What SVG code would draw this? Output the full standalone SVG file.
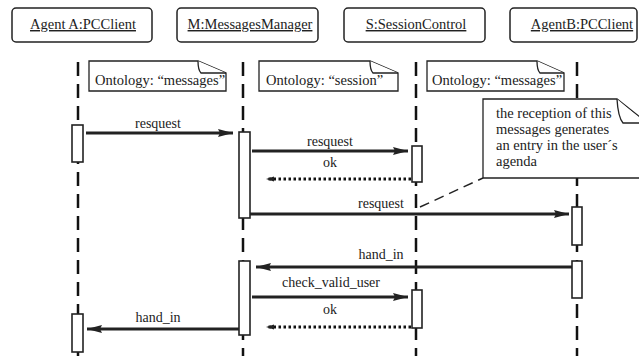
<svg xmlns="http://www.w3.org/2000/svg" width="639" height="356" viewBox="0 0 639 356">
<style>
.box{fill:#fff;stroke:#222;stroke-width:1.5}
.obj{font-family:'Liberation Serif','Times New Roman','DejaVu Serif',serif;font-size:14.5px;fill:#222;text-anchor:middle;text-decoration:underline}
.life{stroke:#111;stroke-width:2.5;stroke-dasharray:14 8;fill:none}
.act{fill:#fff;stroke:#222;stroke-width:1.6}
.note{fill:#fff;stroke:#222;stroke-width:1.3}
.nt{font-family:'Liberation Serif','Times New Roman','DejaVu Serif',serif;font-size:14.5px;fill:#222}
.lbl{font-family:'Liberation Serif','Times New Roman','DejaVu Serif',serif;font-size:14px;fill:#222;text-anchor:middle}
.msg{stroke:#222;stroke-width:3;fill:none}
.ret{stroke:#111;stroke-width:3;stroke-dasharray:2.5 2.5;fill:none}
.ah{fill:#222}
</style>
<defs>
<marker id="arr" markerUnits="userSpaceOnUse" markerWidth="16" markerHeight="10" refX="15" refY="5" orient="auto">
<path d="M0,1 L15,5 L0,9 L2,5 Z" class="ah"/>
</marker>
<marker id="arrs" markerUnits="userSpaceOnUse" markerWidth="10" markerHeight="8" refX="8" refY="4" orient="auto">
<path d="M0,1.5 L8,4 L0,6.5 Z" class="ah"/>
</marker>
</defs>

<g id="lifelines">
<line class="life" x1="78" y1="62" x2="78" y2="356"/>
<line class="life" x1="243" y1="62" x2="243" y2="356"/>
<line class="life" x1="416" y1="62" x2="416" y2="356"/>
<line class="life" x1="577" y1="62" x2="577" y2="356"/>
</g>

<g id="agentA">
<rect class="box" x="12" y="8" width="140" height="34" rx="4"/>
<text class="obj" x="83" y="29">Agent A:PCClient</text>
</g>
<g id="messagesManager">
<rect class="box" x="177" y="8" width="141" height="34" rx="4"/>
<text class="obj" x="250" y="29">M:MessagesManager</text>
</g>
<g id="sessionControl">
<rect class="box" x="344" y="8" width="141" height="34" rx="4"/>
<text class="obj" x="416" y="29">S:SessionControl</text>
</g>
<g id="agentB">
<rect class="box" x="510" y="8" width="127" height="34" rx="4"/>
<text class="obj" x="582" y="29">AgentB:PCClient</text>
</g>

<g id="note1">
<path class="note" d="M89,61 H198 L226,73 V91 H89 Z"/>
<path class="note" d="M198,61 Q198,70 201,73 H226"/>
<text class="nt" x="95" y="85">Ontology: “messages”</text>
</g>
<g id="note2">
<path class="note" d="M259,61 H370 L398,73 V91 H259 Z"/>
<path class="note" d="M370,61 Q370,70 373,73 H398"/>
<text class="nt" x="266" y="85">Ontology: “session”</text>
</g>
<g id="note3">
<path class="note" d="M427,61 H537 L564,73 V91 H427 Z"/>
<path class="note" d="M537,61 Q537,70 540,73 H564"/>
<text class="nt" x="432" y="85">Ontology: “messages”</text>
</g>
<g id="note4">
<path class="note" d="M483,99 H617 L645,121 V178 H483 Z"/>
<path class="note" d="M617,99 Q618,117 623,123 H645"/>
<text class="nt" font-size="15" x="496" y="118">the reception of this</text>
<text class="nt" font-size="15" x="496" y="134">messages generates</text>
<text class="nt" font-size="15" x="496" y="150">an entry in the user´s</text>
<text class="nt" font-size="15" x="496" y="166">agenda</text>
</g>

<g id="activations">
<rect class="act" x="72" y="125" width="11" height="37"/>
<rect class="act" x="239" y="132" width="11" height="86"/>
<rect class="act" x="412" y="146" width="10" height="36"/>
<rect class="act" x="572" y="207" width="10" height="38"/>
<rect class="act" x="572" y="261" width="10" height="37"/>
<rect class="act" x="239" y="261" width="11" height="74"/>
<rect class="act" x="412" y="290" width="10" height="38"/>
<rect class="act" x="72" y="314" width="11" height="38"/>
</g>

<g id="connectors">
<line class="msg" x1="86" y1="133" x2="233" y2="133" marker-end="url(#arr)"/>
<line class="msg" x1="252" y1="151" x2="408" y2="151" marker-end="url(#arr)"/>
<line class="ret" x1="411" y1="179" x2="266" y2="179" marker-end="url(#arrs)"/>
<line class="msg" x1="250" y1="214" x2="569" y2="214" marker-end="url(#arr)"/>
<line class="msg" stroke-width="2.2" x1="572" y1="267" x2="256" y2="267" marker-end="url(#arr)"/>
<line class="msg" x1="252" y1="297" x2="408" y2="297" marker-end="url(#arr)"/>
<line class="ret" x1="411" y1="327" x2="266" y2="327" marker-end="url(#arrs)"/>
<line class="msg" x1="239" y1="329" x2="87" y2="329" marker-end="url(#arr)"/>
<line stroke="#222" stroke-width="1.5" stroke-dasharray="10 6" x1="420" y1="207" x2="483" y2="178"/>
<text class="lbl" x="158" y="128">resquest</text>
<text class="lbl" x="330" y="146">resquest</text>
<text class="lbl" x="330" y="167">ok</text>
<text class="lbl" x="381" y="208">resquest</text>
<text class="lbl" x="381" y="259">hand_in</text>
<text class="lbl" x="331" y="287">check_valid_user</text>
<text class="lbl" x="330" y="314">ok</text>
<text class="lbl" x="158" y="322">hand_in</text>
</g>
</svg>
